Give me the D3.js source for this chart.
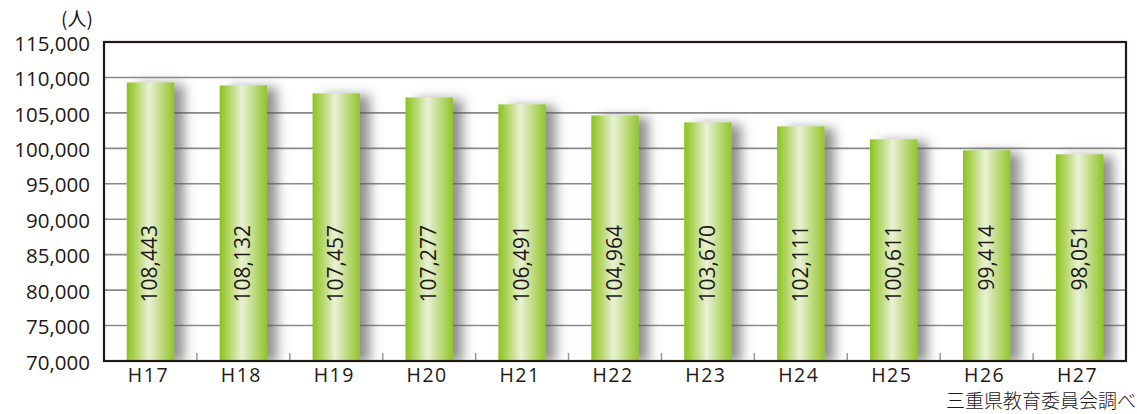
<!DOCTYPE html>
<html>
<head>
<meta charset="utf-8">
<script src="https://cdn.jsdelivr.net/npm/d3@7"></script>
<style>
  body { margin:0; background:#fff; }
  text { font-family:"Open Sans","Noto Sans CJK JP",sans-serif; fill:#231815; }
</style>
</head>
<body>
<script>
// 年度ごとの人数（三重県教育委員会調べ）
var years = ["H17","H18","H19","H20","H21","H22","H23","H24","H25","H26","H27"];
var values = [108443,108132,107457,107277,106491,104964,103670,102111,100611,99414,98051];
// 元図の棒の高さ（ラベルの数値と少しずれて描かれている）
var barValues = [109300,108870,107750,107180,106200,104650,103660,103100,101270,99720,99160];
var yTicks = [70000,75000,80000,85000,90000,95000,100000,105000,110000,115000];

var width = 1137, height = 414;
var margin = {left:104, right:11, top:42, bottom:53};
var w = width - margin.left - margin.right;
var h = height - margin.top - margin.bottom;

var x = d3.scaleBand().domain(years).range([0,w]).paddingInner(0.49).paddingOuter(0.245);
var xb = d3.scaleBand().domain(years).range([0,w]); // 目盛り用
var y = d3.scaleLinear().domain([70000,115000]).range([h,0]);

var svg = d3.select("body").append("svg").attr("width",width).attr("height",height);
var defs = svg.append("defs");

var grad = defs.append("linearGradient").attr("id","barGrad")
    .attr("x1","0%").attr("x2","100%").attr("y1","0%").attr("y2","0%");
grad.append("stop").attr("offset","0%").attr("stop-color","#8cc21e");
grad.append("stop").attr("offset","20%").attr("stop-color","#b2d565");
grad.append("stop").attr("offset","47%").attr("stop-color","#e9f2d6");
grad.append("stop").attr("offset","75%").attr("stop-color","#bcd97a");
grad.append("stop").attr("offset","100%").attr("stop-color","#92c42a");

var shadow = defs.append("filter").attr("id","shadow")
    .attr("x","-30%").attr("y","-20%").attr("width","180%").attr("height","140%");
shadow.append("feDropShadow").attr("dx",10).attr("dy",2).attr("stdDeviation",6)
    .attr("flood-color","#555").attr("flood-opacity",0.65);

defs.append("clipPath").attr("id","plotClip").append("rect")
    .attr("x",0).attr("y",0).attr("width",w).attr("height",h);

var g = svg.append("g").attr("transform","translate("+margin.left+","+margin.top+")");

// グリッド線
g.append("g").selectAll("line").data(yTicks.slice(1,-1)).enter().append("line")
    .attr("x1",0).attr("x2",w)
    .attr("y1",function(d){ return y(d); }).attr("y2",function(d){ return y(d); })
    .attr("stroke","#8a8a8a").attr("stroke-width",1.6);

// 棒
g.append("g").attr("clip-path","url(#plotClip)")
  .selectAll("rect").data(barValues).enter().append("rect")
    .attr("x",function(d,i){ return x(years[i]); })
    .attr("y",function(d){ return y(d); })
    .attr("width",x.bandwidth())
    .attr("height",function(d){ return h - y(d); })
    .attr("fill","url(#barGrad)")
    .attr("filter","url(#shadow)");

// 数値ラベル（縦書き回転）
g.append("g").selectAll("text").data(values).enter().append("text")
    .attr("transform",function(d,i){
      return "translate("+(x(years[i])+x.bandwidth()/2+7)+","+(225-margin.top)+") rotate(-90)";
    })
    .attr("text-anchor","end")
    .style("font-size","21px")
    .text(function(d){ return d3.format(",")(d); });

// 下側の目盛り（内向き）
g.append("g").selectAll("line").data(years.slice(1)).enter().append("line")
    .attr("x1",function(d){ return xb(d); }).attr("x2",function(d){ return xb(d); })
    .attr("y1",h).attr("y2",h-8)
    .attr("stroke","#999").attr("stroke-width",1.5);

// 枠
g.append("rect").attr("x",0).attr("y",0).attr("width",w).attr("height",h)
    .attr("fill","none").attr("stroke","#231815").attr("stroke-width",2.2);

// y軸ラベル
var yAxis = d3.axisLeft(y).tickValues(yTicks).tickSize(0).tickPadding(14)
    .tickFormat(d3.format(","));
var ya = g.append("g").call(yAxis);
ya.select(".domain").remove();
ya.selectAll("text").style("font-size","20.5px").attr("fill","#231815")
    .style("font-family","Open Sans, sans-serif").attr("dy","0.4em");

// x軸ラベル
var xAxis = d3.axisBottom(xb).tickSize(0).tickPadding(7);
var xa = g.append("g").attr("transform","translate(0,"+h+")").call(xAxis);
xa.select(".domain").remove();
xa.selectAll("text").style("font-size","19.5px").attr("fill","#231815")
    .style("font-family","Open Sans, sans-serif").style("letter-spacing","1.5px").attr("dx","-2");

// 単位
svg.append("text").attr("x",77).attr("y",26).attr("text-anchor","middle")
    .style("font-size","19px").style("font-family","Noto Sans CJK JP").text("(人)");

// 出典
svg.append("text").attr("x",1136).attr("y",408).attr("text-anchor","end")
    .style("font-size","19px").style("font-weight","300")
    .style("font-family","Noto Sans CJK JP").text("三重県教育委員会調べ");
</script>
</body>
</html>
